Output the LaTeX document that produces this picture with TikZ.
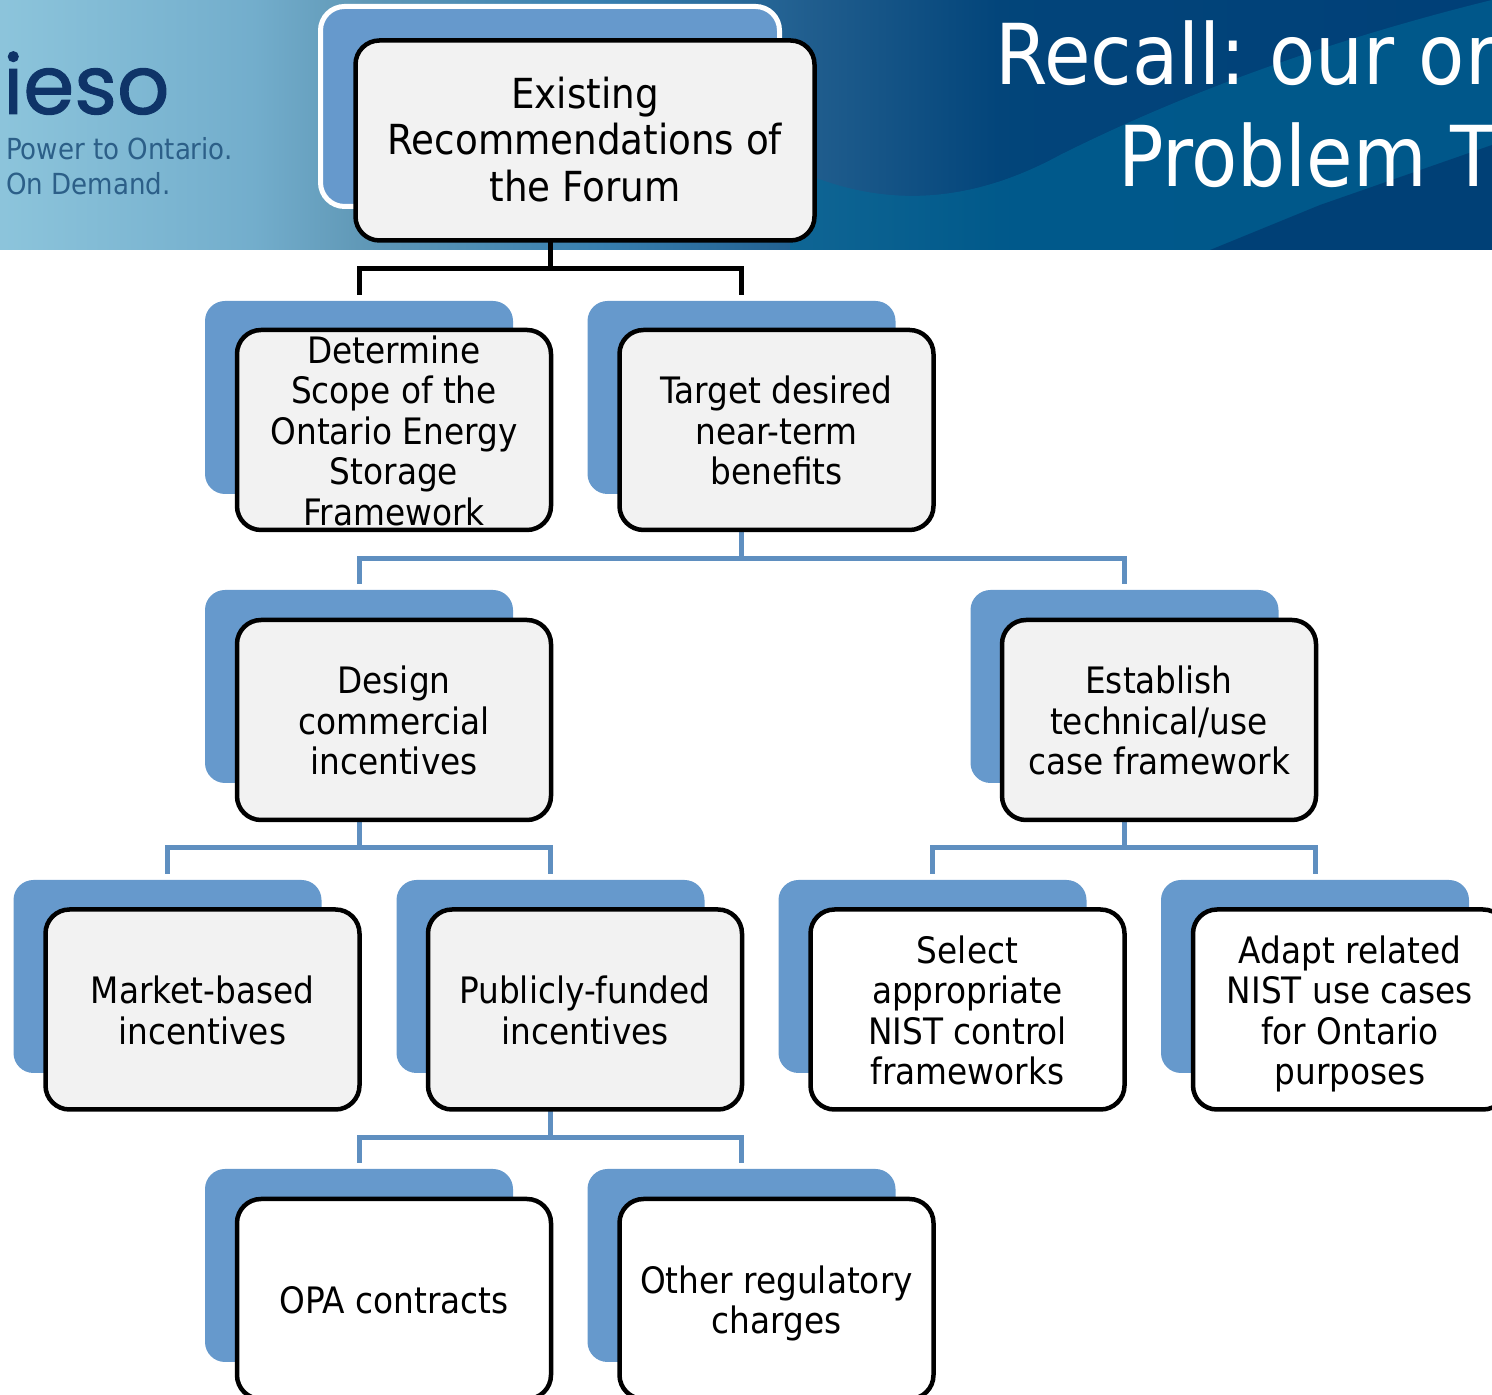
\documentclass[tikz,border=0pt]{standalone}
\usepackage{fontspec}
\setmainfont{DejaVu Sans Condensed}
\newfontfamily\logofont[FakeBold=1.2]{Poppins}
\newcommand{\toprow}{\rule{0pt}{38bp}}
\newcommand{\botrow}{\rule[-9bp]{0pt}{9bp}}
\definecolor{backcol}{HTML}{6699CC}
\definecolor{linkcol}{HTML}{5F8FC0}
\definecolor{frontcol}{HTML}{F2F2F2}
\definecolor{logocol}{HTML}{0F3468}
\definecolor{tagcol}{HTML}{2C5F88}
\definecolor{wavecol}{rgb}{0.0,0.42,0.60}
\definecolor{darkcol}{rgb}{0.0,0.18,0.40}
\pgfdeclarehorizontalshading{bannershade}{100bp}{
  rgb(0bp)=(0.55,0.77,0.86);
  rgb(25bp)=(0.55,0.77,0.86);
  rgb(33.5bp)=(0.45,0.68,0.80);
  rgb(37bp)=(0.38,0.60,0.72);
  rgb(45bp)=(0.22,0.50,0.69);
  rgb(52.5bp)=(0.12,0.36,0.55);
  rgb(58.5bp)=(0.01,0.27,0.48);
  rgb(75bp)=(0.00,0.25,0.47);
  rgb(100bp)=(0.00,0.25,0.47)}
\tikzset{
  backbox/.style={draw=none,rectangle,rounded corners=20bp,fill=backcol,minimum width=308bp,minimum height=193bp},
  rootback/.style={draw=white,line width=5bp,rectangle,rounded corners=24bp,fill=backcol,minimum width=459bp,minimum height=200bp},
  frontbox/.style={draw=black,line width=4.5bp,rectangle,rounded corners=24bp,fill=frontcol,minimum width=314bp,minimum height=200bp,
    align=center,inner xsep=0bp,inner ysep=-7bp,font=\fontsize{36.4bp}{40.5bp}\selectfont},
  rootbox/.style={frontbox,minimum width=459bp,font=\fontsize{41.4bp}{46.5bp}\selectfont},
  plainbox/.style={frontbox,fill=white},
  link/.style={draw=linkcol,line width=5bp,shorten >=6bp},
  rootlink/.style={link,draw=black},
}
\begin{document}
\begin{tikzpicture}[line join=miter]
\clip (0bp,0bp) rectangle (1492bp,1395bp);
%% banner
\shade [shading=bannershade] (0bp,1145bp) rectangle (1492bp,1395bp);
\begin{scope}
  \clip (0bp,1145bp) rectangle (1492bp,1395bp);
  \fill [wavecol,opacity=0.55] (790bp,1228bp) .. controls (860bp,1195bp) and (950bp,1180bp) .. (1060bp,1240bp) .. controls (1200bp,1310bp) and (1350bp,1360bp) .. (1492bp,1395bp) -- (1492bp,1145bp) -- (790bp,1145bp) -- cycle;
  \fill [darkcol,opacity=0.55] (1210bp,1145bp) -- (1320bp,1190bp) -- (1492bp,1250bp) -- (1492bp,1145bp) -- cycle;
\end{scope}
\node (logo) at (3bp,1281bp) [anchor=base west,inner sep=0bp,text=logocol,font=\logofont\fontsize{82bp}{82bp}\selectfont] {ieso};
\node (tagline) at (6bp,1200bp) [anchor=base west,inner sep=0bp,align=left,text=tagcol,font=\fontsize{29bp}{35bp}\selectfont] {Power to Ontario.\\On Demand.};
\node (titlea) at (995bp,1310bp) [anchor=base west,inner sep=0bp,text=white,font=\fontsize{84bp}{84bp}\selectfont] {Recall:\hspace{-8bp} our or};
\node (titleb) at (1118bp,1208bp) [anchor=base west,inner sep=0bp,text=white,font=\fontsize{84bp}{84bp}\selectfont] {Problem T};
%% back boxes
\node (rootb) at (550bp,1288.5bp) [rootback] {};
\node (detb) at (359bp,997.5bp) [backbox] {};
\node (tgtb) at (741.5bp,997.5bp) [backbox] {};
\node (designb) at (359bp,708.5bp) [backbox] {};
\node (estb) at (1124.5bp,708.5bp) [backbox] {};
\node (marketb) at (167.5bp,418.5bp) [backbox] {};
\node (publicb) at (550.5bp,418.5bp) [backbox] {};
\node (selectb) at (932.5bp,418.5bp) [backbox] {};
\node (adaptb) at (1315bp,418.5bp) [backbox] {};
\node (opab) at (359bp,129.5bp) [backbox] {};
\node (otherb) at (741.5bp,129.5bp) [backbox] {};
%% links
\draw [rootlink] (rootb.south) -- ++(0bp,-60bp) -| (detb.north);
\draw [rootlink] (rootb.south) -- ++(0bp,-60bp) -| (tgtb.north);
\draw [link] (tgtb.south) -- ++(0bp,-64bp) -| (designb.north);
\draw [link] (tgtb.south) -- ++(0bp,-64bp) -| (estb.north);
\draw [link] (designb.south) -- ++(0bp,-64bp) -| (marketb.north);
\draw [link] (designb.south) -- ++(0bp,-64bp) -| (publicb.north);
\draw [link] (estb.south) -- ++(0bp,-64bp) -| (selectb.north);
\draw [link] (estb.south) -- ++(0bp,-64bp) -| (adaptb.north);
\draw [link] (publicb.south) -- ++(0bp,-64bp) -| (opab.north);
\draw [link] (publicb.south) -- ++(0bp,-64bp) -| (otherb.north);
%% front boxes
\node (root) at (585bp,1254.5bp) [rootbox] {\toprow Existing\\Recommendations of\\the Forum\botrow};
\node (det) at (394bp,965bp) [frontbox] {\toprow Determine\\Scope of the\\Ontario Energy\\Storage\\Framework\botrow};
\node (tgt) at (776.5bp,965bp) [frontbox] {\toprow Target desired\\near-term\\benefits\botrow};
\node (design) at (394bp,675bp) [frontbox] {\toprow Design\\commercial\\incentives\botrow};
\node (est) at (1159bp,675bp) [frontbox] {\toprow Establish\\technical/use\\case framework\botrow};
\node (market) at (202.5bp,385.5bp) [frontbox] {\toprow Market-based\\incentives\botrow};
\node (public) at (585bp,385.5bp) [frontbox] {\toprow Publicly-funded\\incentives\botrow};
\node (select) at (967.5bp,385.5bp) [plainbox] {\toprow Select\\appropriate\\NIST control\\frameworks\botrow};
\node (adapt) at (1350bp,385.5bp) [plainbox] {\toprow Adapt related\\NIST use cases\\for Ontario\\purposes\botrow};
\node (opa) at (394bp,96bp) [plainbox] {\toprow OPA contracts\botrow};
\node (other) at (776.5bp,96bp) [plainbox] {\toprow Other regulatory\\charges\botrow};
%
\end{tikzpicture}
\end{document}
